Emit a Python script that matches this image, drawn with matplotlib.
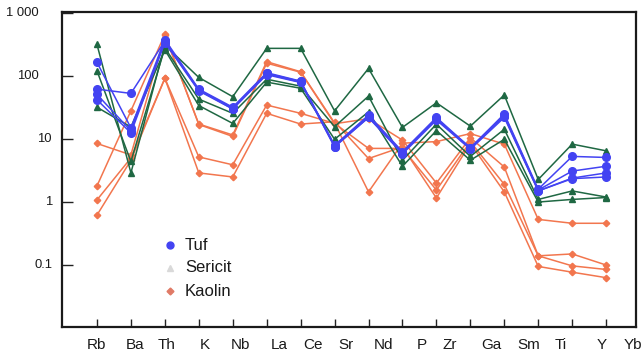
import numpy as np
import matplotlib
matplotlib.use('Agg')
import matplotlib.pyplot as plt
from matplotlib.ticker import NullLocator
from matplotlib.transforms import blended_transform_factory

elements = ['Rb', 'Ba', 'Th', 'K', 'Nb', 'La', 'Ce', 'Sr', 'Nd', 'P', 'Zr', 'Ga', 'Sm', 'Ti', 'Y', 'Yb']

# Tuf samples (blue)
tuf = [
    [165, 15, 380, 62, 32, 113, 83, 7.8, 24, 6.3, 22, 7.2, 25, 1.6, 5.3, 5.1],
    [62, 53, 360, 60, 31, 110, 82, 8.0, 23, 6.1, 21, 7.3, 24, 1.55, 3.1, 3.7],
    [51, 13.5, 350, 60, 30, 108, 80, 7.6, 22, 6.0, 21, 7.0, 23, 1.5, 2.4, 2.9],
    [42, 12.5, 340, 58, 30, 105, 79, 7.5, 22, 5.8, 20, 6.9, 22, 1.5, 2.35, 2.5],
]

# Sericit samples (green)
sericit = [
    [318, 2.9, 310, 95, 47, 275, 275, 28, 132, 15.3, 37.6, 16, 50, 2.28, 8.3, 6.5],
    [121, 4.4, 280, 43, 25.6, 89, 69, 15.7, 48, 4.6, 17.2, 5.3, 14.3, 1.1, 1.5, 1.2],
    [32, 15.5, 260, 34, 17.7, 80, 64, 9.9, 27, 3.7, 13.6, 4.6, 9.9, 1.0, 1.1, 1.18],
]

# Kaolin samples (orange)
kaolin = [
    [8.5, 5.6, 440, 17.3, 11.6, 169, 117, 18, 1.45, 8.6, 9.1, 12.2, 8.3, 0.53, 0.46, 0.46],
    [1.8, 28, 460, 17.0, 11.0, 160, 115, 17.5, 21, 9.6, 2.0, 10.5, 3.6, 0.14, 0.15, 0.1],
    [1.08, 5.0, 92, 5.2, 3.9, 34.6, 25.6, 17.7, 7.1, 7.1, 1.55, 9.1, 1.9, 0.14, 0.097, 0.085],
    [0.62, 4.6, 92, 2.9, 2.5, 25.6, 17.3, 18.8, 4.9, 7.5, 1.16, 8.5, 1.45, 0.095, 0.077, 0.063],
]

ytick_values = [0.1, 1, 10, 100, 1000]
ytick_labels = ['0.1', '1', '10', '100', '1 000']

plt.rcParams['font.family'] = ['Liberation Sans', 'DejaVu Sans']

BLUE = '#4343f2'
GREEN = '#1f6843'
ORANGE = '#f2764e'

fig = plt.figure(figsize=(6.43, 3.56), dpi=100)
ax = fig.add_axes([62 / 643, 1 - 326.7 / 356, 574 / 643, 315 / 356])

x = np.arange(1, len(elements) + 1)

for row in kaolin:
    ax.plot(x, row, color=ORANGE, lw=1.1, marker='D', ms=3.3, mec=ORANGE, mfc=ORANGE)
for row in sericit:
    ax.plot(x, row, color=GREEN, lw=1.1, marker='^', ms=4.8, mec=GREEN, mfc=GREEN)
for row in tuf:
    ax.plot(x, row, color=BLUE, lw=1.1, marker='o', ms=5.5, mec=BLUE, mfc=BLUE)

ax.set_yscale('log')
ax.set_ylim(0.0105, 1050)
ax.set_xlim(-0.03, 16.88)
ax.set_xticks(x)
ax.set_xticklabels([])
ax.set_yticks(ytick_values)
ax.set_yticklabels([])
ax.yaxis.set_minor_locator(NullLocator())
ax.tick_params(axis='x', direction='in', length=6, width=1, color='#222222')
ax.tick_params(axis='y', direction='in', length=8, width=1, color='#222222')
for s in ax.spines.values():
    s.set_linewidth(1.6)
    s.set_color('#1a1a1a')

# x labels sit a bit off their ticks, as in the original
label_x = [0.99, 2.11, 3.05, 4.17, 5.24, 6.36, 7.35, 8.33, 9.43, 10.57, 11.38, 12.61, 13.71, 14.67, 15.88, 16.80]
for lx, name in zip(label_x, elements):
    ax.text(lx, -0.058, name, transform=ax.get_xaxis_transform(), ha='center', va='center',
            fontsize=11, color='#1a1a1a', clip_on=False)

ytrans = blended_transform_factory(ax.transAxes, ax.transData)
for val, lab in zip(ytick_values, ytick_labels):
    right = -0.040 if val >= 100 else -0.0174
    ax.text(right, val, lab, transform=ytrans, ha='right', va='center', fontsize=9.4,
            color='#1a1a1a')

# legend
leg = [('Tuf', 'o', BLUE, 5), ('Sericit', '^', '#d9d9d9', 5), ('Kaolin', 'D', '#e07a66', 3.5)]
for i, (name, mk, col, size) in enumerate(leg):
    ly = (326.7 - 245 - i * 23) / 315
    ax.plot([0.188], [ly], marker=mk, color=col, ms=size, transform=ax.transAxes, clip_on=False)
    ax.text(0.214, ly, name, transform=ax.transAxes, ha='left', va='center', fontsize=12,
            color='#1a1a1a')

fig.savefig('out.png', dpi=100)
